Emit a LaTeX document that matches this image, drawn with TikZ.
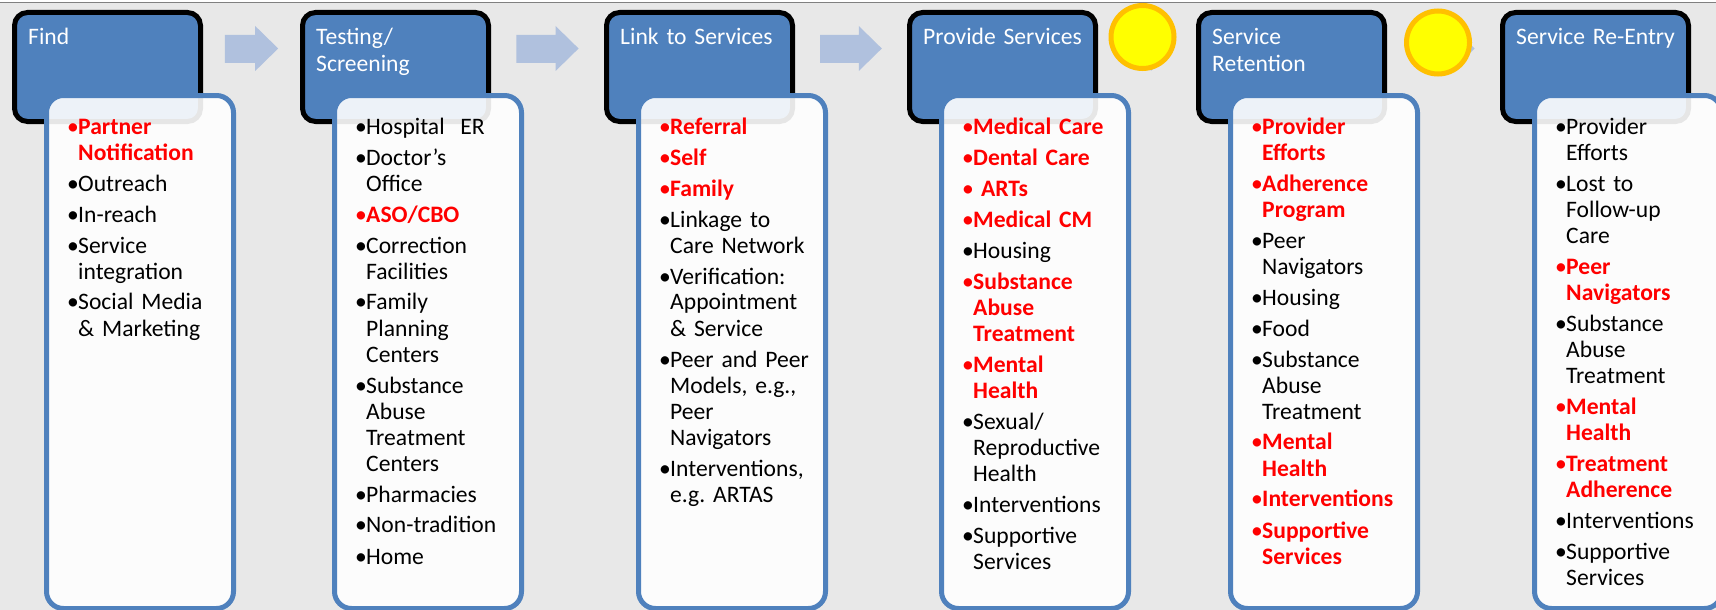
\documentclass[tikz,border=0pt]{standalone}
\usepackage{fontspec}
\setmainfont{Carlito}
\usetikzlibrary{calc, positioning}
\definecolor{stepblue}{RGB}{79,129,189}
\definecolor{arrowblue}{RGB}{176,193,222}
\definecolor{canvasgrey}{RGB}{232,232,232}
\definecolor{sunyellow}{RGB}{255,255,0}
\definecolor{sunorange}{RGB}{255,192,0}
\definecolor{hotred}{RGB}{255,0,0}
\frenchspacing

% bullets, hanging lines and highlighted entries
\newcommand{\bl}{\makebox[11pt][l]{\textbullet}}
\newcommand{\rbl}{\textcolor{hotred}{\makebox[11pt][l]{\textbullet}}}
\newcommand{\ct}{\hspace*{11pt}}
\newcommand{\hb}[1]{\textcolor{hotred}{\bfseries #1}}

\begin{document}
\begin{tikzpicture}[x=1pt, y=-1pt,
    hdr/.style={rectangle, draw=black, line width=5pt, fill=stepblue, rounded corners=13pt,
                minimum width=186pt, minimum height=109pt, inner sep=0},
    hdrtext/.style={text=white, font=\fontsize{23.6}{27}\selectfont, text width=175pt,
                align=left, inner sep=0, anchor=base west},
    panel/.style={rectangle, draw=stepblue, line width=5pt, fill=white, fill opacity=0.9,
                rounded corners=17pt, minimum width=187pt, minimum height=513pt, anchor=north west},
    listtext/.style={font=\fontsize{23.6}{26}\selectfont, text width=200pt, align=left,
                inner sep=0, anchor=base west},
    flowarrow/.style={fill=arrowblue},
    sun/.style={circle, draw=sunorange, line width=5pt, fill=sunyellow, minimum size=63pt, inner sep=0}
]
    \useasboundingbox (0,0) rectangle (1716,610);
    \clip (0,0) rectangle (1716,610);
    \fill[white] (0,0) rectangle (1716,3);
    \fill[canvasgrey] (0,3) rectangle (1716,610);
    \draw[gray, line width=1.3pt] (0,2.5) -- (1716,2.5);

    % step headers
    \node[hdr] (find)  at (107.5,67)  {};
    \node[hdr] (test)  at (395.5,67)  {};
    \node[hdr] (link)  at (699.5,67)  {};
    \node[hdr] (prov)  at (1002.5,67) {};
    \node[hdr] (ret)   at (1291.5,67) {};
    \node[hdr] (reent) at (1595.5,67) {};

    \node[hdrtext] at ([shift={(16,35)}]find.north west)  {Find};
    \node[hdrtext] at ([shift={(16,35)}]test.north west)  {Testing/\\Screening};
    \node[hdrtext] at ([shift={(16,35)}]link.north west)  {Link to Services};
    \node[hdrtext] at ([shift={(16,35)}]prov.north west)  {Provide Services};
    \node[hdrtext] at ([shift={(16,35)}]ret.north west)   {Service\\Retention};
    \node[hdrtext] at ([shift={(16,35)}]reent.north west) {Service Re-Entry};

    % arrows between the steps
    \foreach \from/\to in {find/test, test/link, link/prov, prov/ret, ret/reent}
        \fill[flowarrow] let \p1=(\from.north east), \p2=(\to.north west),
                             \p3=($(\p1)!0.5!(\p2)$), \n1={0.275*(\x2-\x1)} in
            (\x3-\n1, \y1-25pt) -- (\x3+\n1-23pt, \y1-25pt) -- (\x3+\n1-23pt, \y1-16pt)
            -- (\x3+\n1, \y1-38.5pt) -- (\x3+\n1-23pt, \y1-61pt) -- (\x3+\n1-23pt, \y1-53pt)
            -- (\x3-\n1, \y1-53pt) -- cycle;

    % content panels
    \node[panel] (findL)  at ([shift={(32,83)}]find.north west)  {};
    \node[panel] (testL)  at ([shift={(32,83)}]test.north west)  {};
    \node[panel] (linkL)  at ([shift={(32,83)}]link.north west)  {};
    \node[panel] (provL)  at ([shift={(32,83)}]prov.north west)  {};
    \node[panel] (retL)   at ([shift={(32,83)}]ret.north west)   {};
    \node[panel] (reentL) at ([shift={(32,83)}]reent.north west) {};

    % Find
    \node[listtext] at ([shift={(23,41)}]findL.north west) {%
        \rbl\hb{Partner}\\
        \ct\hb{Notification}\\[5pt]
        \bl Outreach\\[5pt]
        \bl In-reach\\[5pt]
        \bl Service\\
        \ct integration\\[5pt]
        \bl Social Media\\
        \ct\& Marketing};

    % Testing
    \node[listtext] at ([shift={(23,41)}]testL.north west) {%
        \bl Hospital\ \ ER\\[5pt]
        \bl Doctor’s\\
        \ct Office\\[5pt]
        \rbl\hb{ASO/CBO}\\[5pt]
        \bl Correction\\
        \ct Facilities\\[5pt]
        \bl Family\\
        \ct Planning\\
        \ct Centers\\[5pt]
        \bl Substance\\
        \ct Abuse\\
        \ct Treatment\\
        \ct Centers\\[5pt]
        \bl Pharmacies\\[5pt]
        \bl Non-tradition\\[5pt]
        \bl Home};

    % Link
    \node[listtext] at ([shift={(23,41)}]linkL.north west) {%
        \rbl\hb{Referral}\\[5pt]
        \rbl\hb{Self}\\[5pt]
        \rbl\hb{Family}\\[5pt]
        \bl Linkage to\\
        \ct Care Network\\[5pt]
        \bl Verification:\\
        \ct Appointment\\
        \ct\& Service\\[5pt]
        \bl Peer and Peer\\
        \ct Models, e.g.,\\
        \ct Peer\\
        \ct Navigators\\[5pt]
        \bl Interventions,\\
        \ct e.g. ARTAS};

    % Provide
    \node[listtext] at ([shift={(23,41)}]provL.north west) {%
        \rbl\hb{Medical Care}\\[5pt]
        \rbl\hb{Dental Care}\\[5pt]
        \rbl\hb{\ ARTs}\\[5pt]
        \rbl\hb{Medical CM}\\[5pt]
        \bl Housing\\[5pt]
        \rbl\hb{Substance}\\
        \ct\hb{Abuse}\\
        \ct\hb{Treatment}\\[5pt]
        \rbl\hb{Mental}\\
        \ct\hb{Health}\\[5pt]
        \bl Sexual/\\
        \ct Reproductive\\
        \ct Health\\[5pt]
        \bl Interventions\\[5pt]
        \bl Supportive\\
        \ct Services};

    % Retention
    \node[listtext] at ([shift={(23,41)}]retL.north west) {%
        \rbl\hb{Provider}\\
        \ct\hb{Efforts}\\[5pt]
        \rbl\hb{Adherence}\\
        \ct\hb{Program}\\[5pt]
        \bl Peer\\
        \ct Navigators\\[5pt]
        \bl Housing\\[5pt]
        \bl Food\\[5pt]
        \bl Substance\\
        \ct Abuse\\
        \ct Treatment\\[5pt]
        \rbl\hb{Mental}\\
        \ct\hb{Health}\\[5pt]
        \rbl\hb{Interventions}\\[5pt]
        \rbl\hb{Supportive}\\
        \ct\hb{Services}};

    % Re-Entry
    \node[listtext] at ([shift={(23,41)}]reentL.north west) {%
        \bl Provider\\
        \ct Efforts\\[5pt]
        \bl Lost to\\
        \ct Follow-up\\
        \ct Care\\[5pt]
        \rbl\hb{Peer}\\
        \ct\hb{Navigators}\\[5pt]
        \bl Substance\\
        \ct Abuse\\
        \ct Treatment\\[5pt]
        \rbl\hb{Mental}\\
        \ct\hb{Health}\\[5pt]
        \rbl\hb{Treatment}\\
        \ct\hb{Adherence}\\[5pt]
        \bl Interventions\\[5pt]
        \bl Supportive\\
        \ct Services};

    % markers
    \node[sun] (sunA) at (1142.5,37) {};
    \node[sun] (sunB) at (1438,42.5) {};
\end{tikzpicture}
\end{document}
